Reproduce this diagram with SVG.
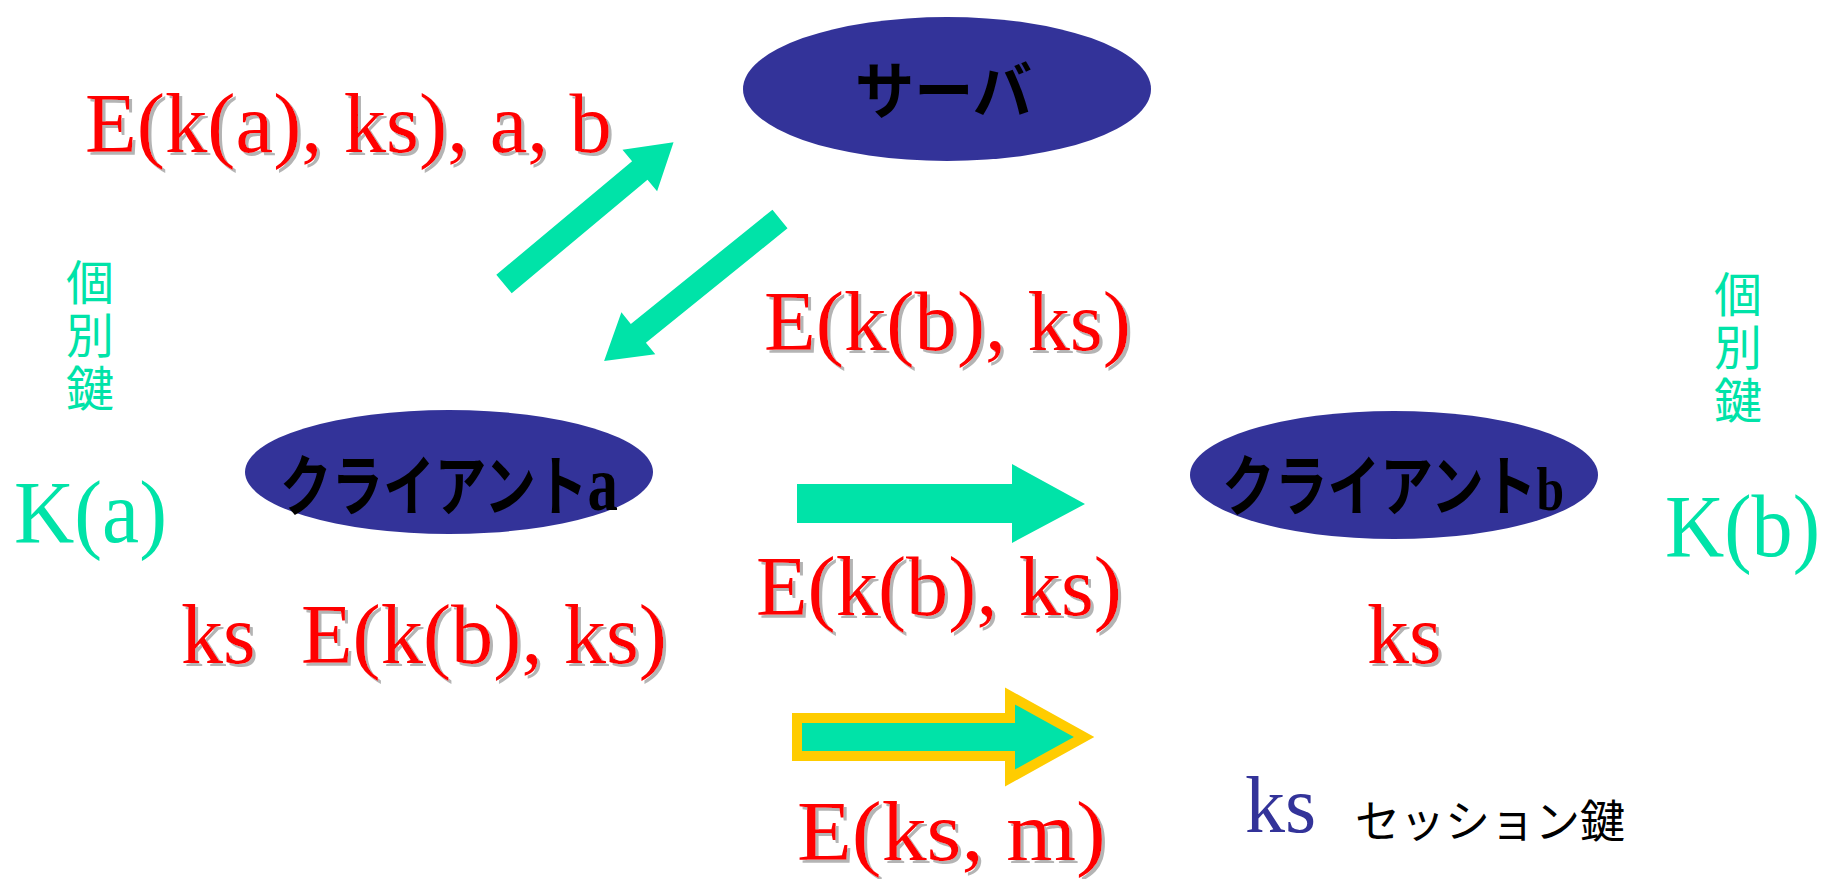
<svg xmlns="http://www.w3.org/2000/svg" width="1829" height="879" viewBox="0 0 1829 879">
<defs>
<filter id="sh" x="-5%" y="-5%" width="115%" height="120%">
<feDropShadow dx="3" dy="3" stdDeviation="0.6" flood-color="#b4b4b4" flood-opacity="1"/>
</filter>
<style>
.node{fill:#333399}
.nl{font-family:"Noto Sans CJK JP",sans-serif;font-weight:bold;fill:#000}
.lt{font-family:"Liberation Serif",serif;font-weight:bold}
.red{font-family:"Liberation Serif","Times New Roman",serif;font-size:84px;fill:#ff0000;filter:url(#sh)}
.teal{font-family:"Liberation Serif",serif;font-size:88px;fill:#00e3a8}
.kj{font-family:"Noto Sans CJK JP",sans-serif;font-size:48px;fill:#00e3a8;writing-mode:vertical-rl;letter-spacing:5px}
.arr{fill:#00e3a8}
</style>
</defs>
<g id="server">
<ellipse class="node" cx="947" cy="89" rx="204" ry="72"/>
<text class="nl" x="855" y="114" font-size="62" textLength="177" lengthAdjust="spacingAndGlyphs">サーバ</text>
</g>
<g id="clientA">
<ellipse class="node" cx="449" cy="472" rx="204" ry="62"/>
<text class="nl" x="280" y="510" font-size="66" textLength="338" lengthAdjust="spacingAndGlyphs">クライアント<tspan class="lt" font-size="78">a</tspan></text>
</g>
<g id="clientB">
<ellipse class="node" cx="1394" cy="475" rx="204" ry="64"/>
<text class="nl" x="1222" y="510" font-size="66" textLength="342" lengthAdjust="spacingAndGlyphs">クライアント<tspan class="lt" font-size="62">b</tspan></text>
</g>
<g id="connectors">
<polygon class="arr" transform="translate(504,284) rotate(-39.9)" points="0,-12 177,-12 177,-27 221,0 177,27 177,12 0,12"/>
<polygon class="arr" transform="translate(780,219) rotate(141.1)" points="0,-12 182,-12 182,-27 226,0 182,27 182,12 0,12"/>
<polygon class="arr" points="797,484 1012,484 1012,464 1085,504 1012,543 1012,523 797,523"/>
<polygon points="797,718 1010,718 1010,696 1084,737 1010,778 1010,756 797,756" fill="#00e3a8" stroke="#ffcc00" stroke-width="10" stroke-linejoin="miter"/>
</g>
<g id="labels">
<text class="red" x="85" y="152" textLength="527" lengthAdjust="spacingAndGlyphs">E(k(a), ks), a, b</text>
<text class="red" x="764" y="350" textLength="367" lengthAdjust="spacingAndGlyphs">E(k(b), ks)</text>
<text class="red" x="756" y="615" textLength="366" lengthAdjust="spacingAndGlyphs">E(k(b), ks)</text>
<text class="red" x="181" y="663">ks</text>
<text class="red" x="301" y="663" textLength="366" lengthAdjust="spacingAndGlyphs">E(k(b), ks)</text>
<text class="red" x="1367" y="663">ks</text>
<text class="red" x="797" y="860" textLength="309" lengthAdjust="spacingAndGlyphs">E(ks, m)</text>
<text x="1245" y="832" font-family="Liberation Serif,serif" font-size="80" fill="#333399">ks</text>
<text x="1355" y="838" font-family="Noto Sans CJK JP,sans-serif" font-size="45" fill="#000" textLength="270" lengthAdjust="spacingAndGlyphs">セッション鍵</text>
<text class="teal" x="14" y="542" textLength="153" lengthAdjust="spacingAndGlyphs">K(a)</text>
<text class="teal" x="1665" y="556" textLength="155" lengthAdjust="spacingAndGlyphs">K(b)</text>
<text class="kj" x="90" y="258">個別鍵</text>
<text class="kj" x="1738" y="270">個別鍵</text>
</g>
</svg>
